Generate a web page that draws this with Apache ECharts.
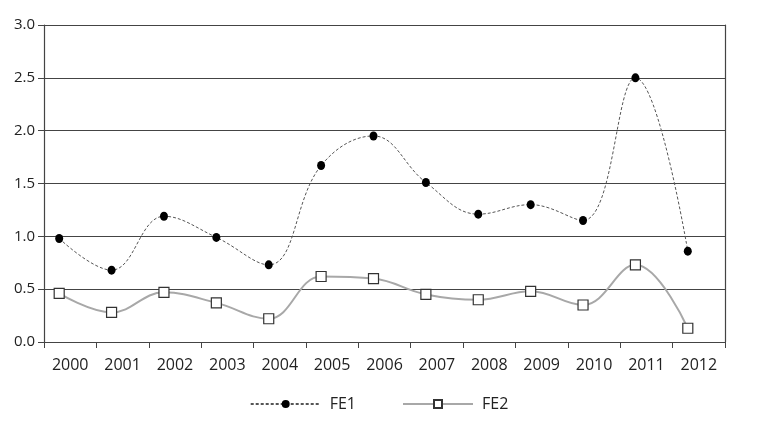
<!DOCTYPE html>
<html><head><meta charset="utf-8">
<script src="https://cdn.jsdelivr.net/npm/echarts@6/dist/echarts.min.js"></script>
<style>html,body{margin:0;padding:0;background:#fff}#c{width:758px;height:427px}</style>
</head><body><div id="c"></div>
<script>
const years = ['2000','2001','2002','2003','2004','2005','2006','2007','2008','2009','2010','2011','2012'];
const fe1 = [0.98,0.68,1.19,0.99,0.73,1.67,1.95,1.51,1.21,1.30,1.15,2.50,0.86];
const fe2 = [0.46,0.28,0.47,0.37,0.22,0.62,0.60,0.45,0.40,0.48,0.35,0.73,0.13];
const yTicks = [0,0.5,1,1.5,2,2.5,3];

const font = 'Open Sans, sans-serif';
const pair = arr => arr.map((v,i)=>[i,v]);
const chart = echarts.init(document.getElementById('c'));
chart.setOption({
  animation:false,
  grid:{left:44,right:33,top:25,bottom:85},
  legend:{
    bottom:10,left:'center',itemWidth:70,itemHeight:10,itemGap:46,
    textStyle:{fontFamily:font,fontSize:16,color:'#222',padding:[0,0,0,4]},
    data:['FE1','FE2']
  },
  xAxis:[{
    type:'category',data:years,boundaryGap:true,
    axisLine:{onZero:false,lineStyle:{color:'#444',width:1.2}},
    axisTick:{show:true,length:6,lineStyle:{color:'#444'}},
    axisLabel:{fontFamily:font,fontSize:16,color:'#222',margin:15}
  },{
    type:'value',min:-0.29,max:12.71,show:false
  }],
  yAxis:[{
    type:'value',min:yTicks[0],max:yTicks[yTicks.length-1],interval:0.5,
    axisLine:{show:true,onZero:false,lineStyle:{color:'#444',width:1.2}},
    axisTick:{show:true,length:6,lineStyle:{color:'#444'}},
    axisLabel:{fontFamily:font,fontSize:15,color:'#222',margin:9,formatter:v=>v.toFixed(1)},
    splitLine:{show:true,lineStyle:{color:'#444',width:1.2}}
  },{
    type:'value',min:0,max:3,position:'right',
    axisLine:{show:true,onZero:false,lineStyle:{color:'#444',width:1.2}},
    axisTick:{show:false},axisLabel:{show:false},splitLine:{show:false}
  }],
  series:[{
    name:'FE1',type:'line',xAxisIndex:1,data:pair(fe1),smooth:0.4,
    symbol:'circle',symbolSize:[8,9],
    itemStyle:{color:'#000'},
    lineStyle:{color:'#555',width:1,type:[3,2]}
  },{
    name:'FE2',type:'line',xAxisIndex:1,data:pair(fe2),smooth:0.4,
    symbol:'rect',symbolSize:10,
    itemStyle:{color:'#fff',borderColor:'#333',borderWidth:1.2},
    lineStyle:{color:'#a8a8a8',width:2}
  }]
});
</script></body></html>
